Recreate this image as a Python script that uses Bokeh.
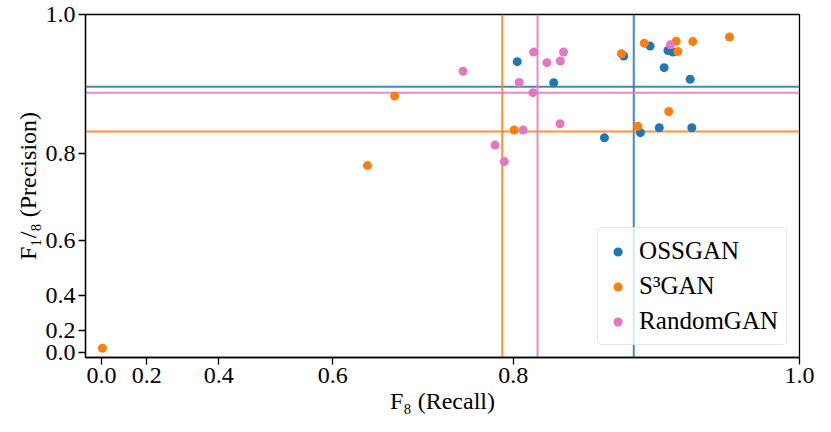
import numpy as np
from bokeh.plotting import figure
from bokeh.models import Span, FixedTicker, CustomJSTickFormatter, Range1d
from bokeh.embed import file_html
from bokeh.resources import INLINE

# ---- data ----
tick_values = [0.0, 0.2, 0.4, 0.6, 0.8, 1.0]

ossgan_recall = [0.8035, 0.8345, 0.8884, 0.9071, 0.9193, 0.9226, 0.9167, 0.9340,
                 0.8742, 0.9003, 0.9134, 0.9351]
ossgan_precision = [0.9417, 0.9129, 0.9491, 0.9618, 0.9562, 0.9542, 0.9337, 0.9178,
                    0.8270, 0.8359, 0.8441, 0.8441]

s3gan_recall = [0.6794, 0.8007, 0.6464, 0.0054, 0.8867, 0.9030, 0.9248, 0.9259,
                0.9357, 0.9589, 0.9198, 0.8984]
s3gan_precision = [0.8937, 0.8404, 0.7764, 0.0445, 0.9520, 0.9655, 0.9679, 0.9549,
                   0.9675, 0.9732, 0.8702, 0.8465]

random_recall = [0.7530, 0.8177, 0.8289, 0.8425, 0.8399, 0.8052, 0.8171, 0.8397,
                 0.8087, 0.7835, 0.7919, 0.9209]
random_precision = [0.9288, 0.9542, 0.9404, 0.9542, 0.9426, 0.9132, 0.8986, 0.8507,
                    0.8404, 0.8143, 0.7840, 0.9634]

series_names = ["OSSGAN", "S³GAN", "RandomGAN"]
mean_recall = [0.8956, 0.7901, 0.8210]
mean_precision = [0.9072, 0.8376, 0.8986]

colors = ["#1f77b4", "#ff7f0e", "#e377c2"]
FONT = "Liberation Serif"
FS = "24px"


def fwd(v):
    # axis scale: position proportional to 10**value
    return np.power(10.0, np.asarray(v, dtype=float))


p = figure(width=815, height=416, output_backend="svg", toolbar_location=None,
           x_range=Range1d(float(fwd(-0.1)), float(fwd(1.0))),
           y_range=Range1d(float(fwd(-0.064)), float(fwd(1.0))),
           min_border_left=85, min_border_right=16, min_border_top=14,
           min_border_bottom=58)

p.xgrid.visible = False
p.ygrid.visible = False
p.outline_line_color = "black"
p.outline_line_width = 1.3
p.outline_line_alpha = 1.0

fmt_code = "return Math.log10(tick).toFixed(1);"
for ax in (p.xaxis[0], p.yaxis[0]):
    ax.ticker = FixedTicker(ticks=[float(t) for t in fwd(tick_values)], minor_ticks=[])
    ax.formatter = CustomJSTickFormatter(code=fmt_code)
    ax.major_label_text_font = FONT
    ax.major_label_text_font_size = FS
    ax.major_label_text_color = "black"
    ax.axis_label_text_font = FONT
    ax.axis_label_text_font_size = FS
    ax.axis_label_text_font_style = "normal"
    ax.axis_label_text_color = "black"
    ax.axis_line_color = "black"
    ax.axis_line_width = 1.3
    ax.major_tick_line_color = "black"
    ax.major_tick_line_width = 1.3
    ax.major_tick_out = 7
    ax.major_tick_in = 0
    ax.minor_tick_line_color = None
    ax.major_label_standoff = 3
    ax.axis_label_standoff = 2

p.xaxis[0].axis_label = "F₈ (Recall)"
p.yaxis[0].axis_label = "F₁/₈ (Precision)"

# mean lines
for mr, mp, c in zip(mean_recall, mean_precision, colors):
    p.add_layout(Span(location=float(fwd(mr)), dimension="height", line_color=c,
                      line_width=2, line_alpha=0.85, level="underlay"))
    p.add_layout(Span(location=float(fwd(mp)), dimension="width", line_color=c,
                      line_width=2, line_alpha=0.85, level="underlay"))

recalls = [ossgan_recall, s3gan_recall, random_recall]
precisions = [ossgan_precision, s3gan_precision, random_precision]
for r, pr, c, name in zip(recalls, precisions, colors, series_names):
    p.scatter(fwd(r), fwd(pr), size=9, color=c, line_color=None, legend_label=name)

lg = p.legend[0]
lg.location = "bottom_right"
lg.margin = 12
lg.padding = 8
lg.spacing = 5
lg.label_height = 30
lg.glyph_height = 23
lg.glyph_width = 23
lg.label_standoff = 10
lg.label_text_font = FONT
lg.label_text_font_size = "25px"
lg.label_text_color = "black"
lg.border_line_color = "#cccccc"
lg.border_line_width = 1.5
lg.background_fill_alpha = 0.8
lg.border_radius = 5

open("out.html", "w").write(file_html(p, INLINE))
